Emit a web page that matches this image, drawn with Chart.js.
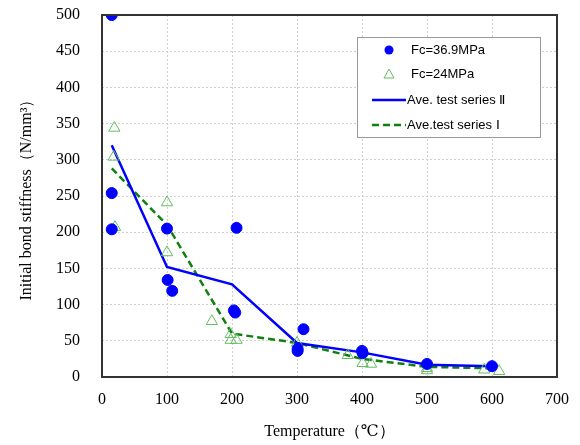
<!DOCTYPE html>
<html>
<head>
<meta charset="utf-8">
<script src="https://cdn.jsdelivr.net/npm/chart.js@4.4.1/dist/chart.umd.min.js"></script>
<style>
  html, body { margin: 0; padding: 0; background: #fff; }
</style>
</head>
<body>
<canvas id="myChart" width="580" height="445"></canvas>
<script>
// Fc=36.9MPa test points
const temp369 = [15, 15, 15, 100, 101, 108, 207, 203, 205, 301, 301, 310, 400, 401, 500, 600];
const stiff369 = [500, 254, 204, 205, 134, 119, 206, 92, 89, 39, 36, 66, 36, 33, 18, 15];
// Fc=24MPa test points
const temp24 = [19, 18, 20, 100, 100, 169, 198, 198, 207, 300, 378, 401, 414, 500, 500, 588, 611];
const stiff24 = [344, 304, 207, 241, 172, 77, 59, 51, 51, 47, 30, 19, 18, 12, 9, 10, 8];
// averages
const aveTemp = [15, 100, 200, 300, 400, 500, 600];
const aveSeries2 = [320, 152, 128, 47, 34, 17, 15];
const aveSeries1 = [288, 210, 60, 47, 25, 14, 12];

const serif = "'Liberation Serif', 'DejaVu Serif', serif";
const sans = "'Liberation Sans', Arial, sans-serif";

const toPts = (xs, ys) => xs.map((x, i) => ({x: x, y: ys[i]}));

// legend drawn inside plot area, top right
const boxLegend = {
	id: 'boxLegend',
	afterDraw(chart) {
		const ctx = chart.ctx;
		const a = chart.chartArea;
		ctx.save();
		// plot frame
		ctx.strokeStyle = '#333';
		ctx.lineWidth = 2;
		ctx.strokeRect(a.left, a.top, a.right - a.left, a.bottom - a.top);

		const x0 = 357, y0 = 37, w = 183, h = 100;
		ctx.fillStyle = '#fff';
		ctx.fillRect(x0, y0, w, h);
		ctx.strokeStyle = '#999';
		ctx.lineWidth = 1;
		ctx.strokeRect(x0 + 0.5, y0 + 0.5, w, h);

		ctx.font = '13px ' + sans;
		ctx.textBaseline = 'middle';
		ctx.fillStyle = '#000';
		const rows = [50, 74, 100, 125];
		const ds = chart.data.datasets;
		ds.forEach((d, i) => {
			const y = rows[i];
			if (i == 0) {
				ctx.beginPath();
				ctx.fillStyle = d.backgroundColor;
				ctx.arc(389, y, 4.5, 0, Math.PI * 2);
				ctx.fill();
			} else if (i == 1) {
				ctx.beginPath();
				ctx.strokeStyle = d.borderColor;
				ctx.lineWidth = 1;
				ctx.moveTo(389, y - 5);
				ctx.lineTo(394, y + 4);
				ctx.lineTo(384, y + 4);
				ctx.closePath();
				ctx.stroke();
			} else {
				ctx.beginPath();
				ctx.strokeStyle = d.borderColor;
				ctx.lineWidth = 2.5;
				ctx.setLineDash(d.borderDash || []);
				ctx.moveTo(372, y);
				ctx.lineTo(406, y);
				ctx.stroke();
				ctx.setLineDash([]);
			}
			ctx.fillStyle = '#000';
			ctx.fillText(d.label, i < 2 ? 411 : 407, y);
		});
		ctx.restore();
	}
};

new Chart(document.getElementById('myChart').getContext('2d'), {
	type: 'scatter',
	data: {
		datasets: [
			{
				label: 'Fc=36.9MPa',
				data: toPts(temp369, stiff369),
				backgroundColor: '#0000ff',
				borderColor: '#0000ff',
				pointRadius: 5.5,
				pointStyle: 'circle',
				order: 1
			},
			{
				label: 'Fc=24MPa',
				data: toPts(temp24, stiff24),
				backgroundColor: 'rgba(0,0,0,0)',
				borderColor: '#66bb66',
				borderWidth: 1,
				pointRadius: 6.5,
				pointStyle: 'triangle',
				order: 2
			},
			{
				label: 'Ave. test series \u2161',
				data: toPts(aveTemp, aveSeries2),
				showLine: true,
				borderColor: '#0000ff',
				backgroundColor: '#0000ff',
				borderWidth: 2.5,
				pointRadius: 0,
				order: 3
			},
			{
				label: 'Ave.test series \u2160',
				data: toPts(aveTemp, aveSeries1),
				showLine: true,
				borderColor: '#108010',
				backgroundColor: '#108010',
				borderWidth: 2.5,
				borderDash: [7, 4],
				pointRadius: 0,
				order: 4
			}
		]
	},
	options: {
		responsive: false,
		animation: false,
		maintainAspectRatio: false,
		devicePixelRatio: 1,
		layout: { padding: { left: 0, right: 23, top: 15, bottom: 0 } },
		plugins: {
			legend: { display: false },
			tooltip: { enabled: false }
		},
		scales: {
			x: {
				type: 'linear',
				min: 0,
				max: 700,
				ticks: { stepSize: 100, autoSkip: false, maxRotation: 0, color: '#000', font: { family: serif, size: 16 }, padding: 13 },
				grid: { color: '#d0d0d0', drawTicks: false },
				border: { display: false, dash: [2, 2] },
				title: { display: true, text: 'Temperature（℃）', color: '#000', font: { family: serif, size: 16 }, padding: { top: 6 } },
				afterFit: (s) => { s.height = 68; s.paddingLeft = 0; s.paddingRight = 0; }
			},
			y: {
				min: 0,
				max: 500,
				ticks: { stepSize: 50, autoSkip: false, color: '#000', font: { family: serif, size: 16 }, padding: 22 },
				grid: { color: '#d0d0d0', drawTicks: false },
				border: { display: false, dash: [2, 2] },
				title: { display: true, text: 'Initial bond stiffness（N/mm³）', color: '#000', font: { family: serif, size: 16 }, padding: { top: 17, bottom: 4 } },
				afterFit: (s) => { s.width = 102; s.paddingTop = 0; s.paddingBottom = 0; }
			}
		}
	},
	plugins: [boxLegend]
});
</script>
</body>
</html>
